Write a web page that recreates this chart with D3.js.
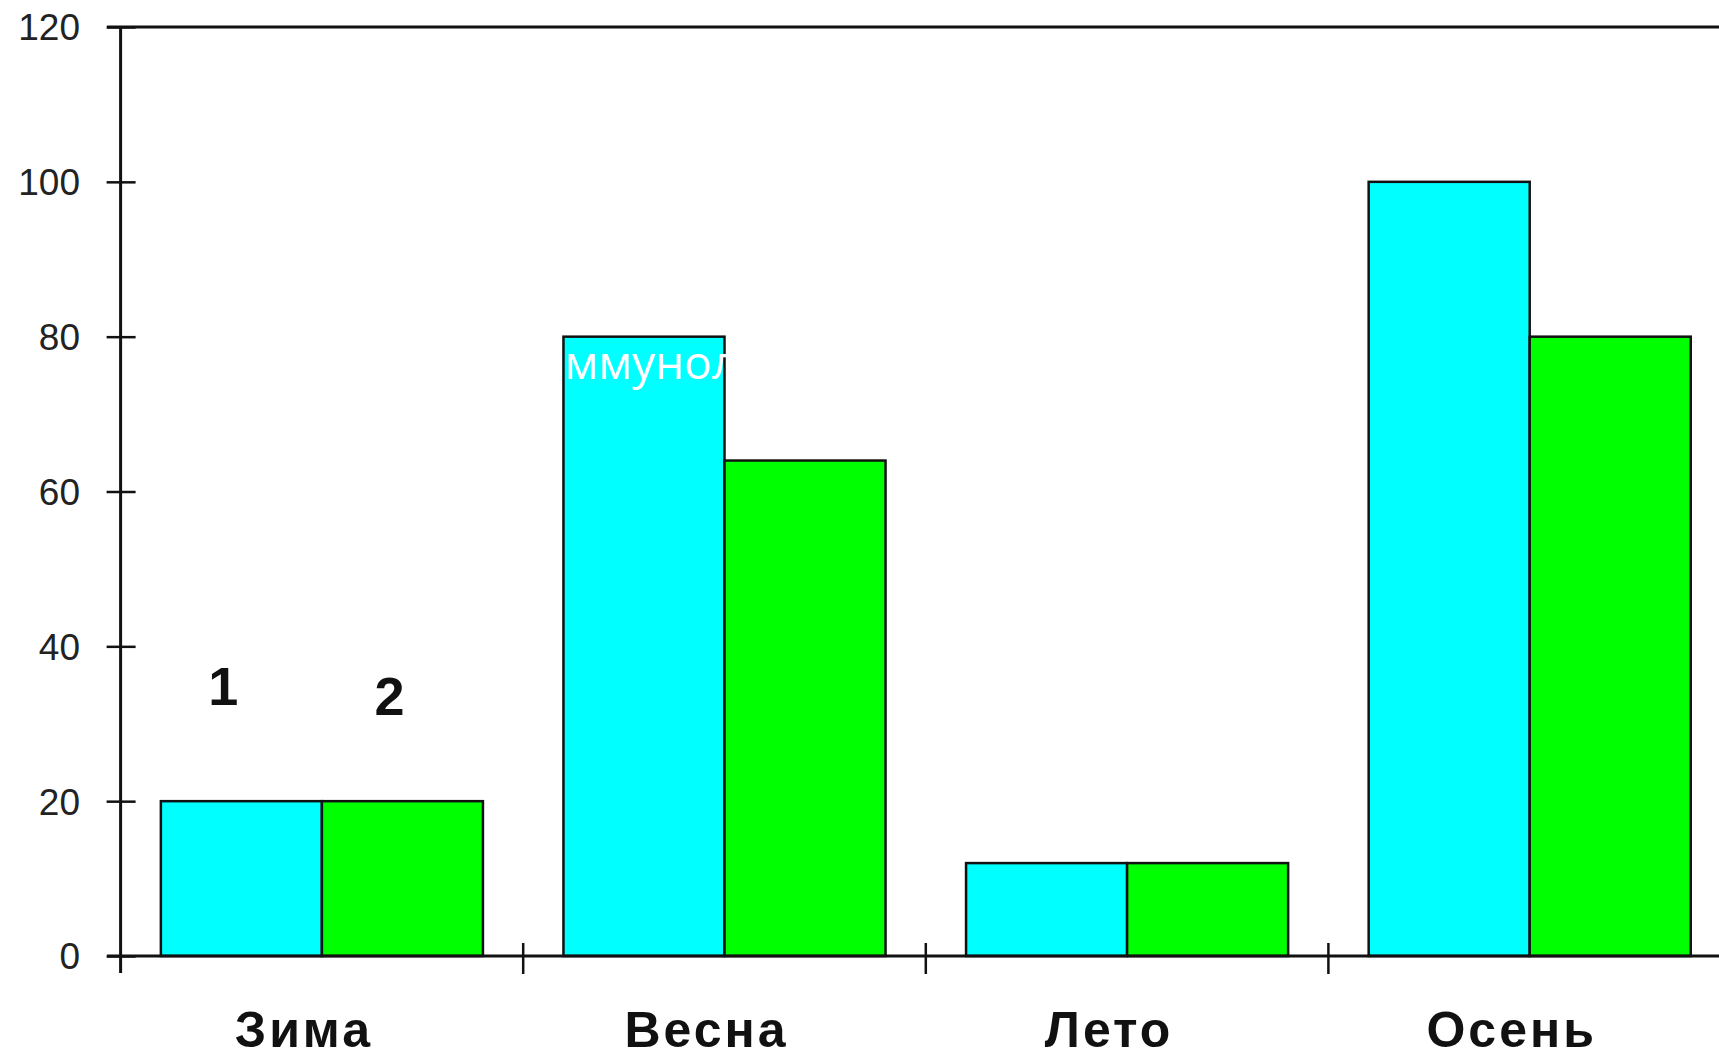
<!DOCTYPE html>
<html>
<head>
<meta charset="utf-8">
<script src="https://cdn.jsdelivr.net/npm/d3@7"></script>
<style>
  html, body { margin: 0; padding: 0; background: #fff; overflow: hidden; }
  svg { display: block; }
</style>
</head>
<body>
<svg id="chart" width="1719" height="1060"></svg>
<script>
// ---- data ----
const categories = ["Зима", "Весна", "Лето", "Осень"];
const seriesNames = ["1", "2"];
const series1 = [20, 80, 12, 100];
const series2 = [20, 64, 12, 80];
const yTicks = [0, 20, 40, 60, 80, 100, 120];
const seriesColors = ["#00ffff", "#00ff00"];
const overlayText = "ммунол";

const svg = d3.select("#chart");

const y = d3.scaleLinear().domain([0, 120]).range([956, 27]);
const x = d3.scaleBand().domain(categories).range([120.6, 1731]).paddingInner(0).paddingOuter(0);
const xs = d3.scaleBand().domain(seriesNames).range([0, x.bandwidth()]).paddingInner(0).paddingOuter(0.25);

const rows = categories.map((c, i) => ({ cat: c, vals: [series1[i], series2[i]] }));

// bars
const g = svg.append("g");
rows.forEach(r => {
  r.vals.forEach((v, j) => {
    g.append("rect")
      .attr("x", x(r.cat) + xs(seriesNames[j]))
      .attr("y", y(v))
      .attr("width", xs.bandwidth())
      .attr("height", y(0) - y(v))
      .attr("fill", seriesColors[j])
      .attr("stroke", "#111")
      .attr("stroke-width", 2.5);
  });
});

// top border line at 120
svg.append("line")
  .attr("x1", 107).attr("x2", 1719)
  .attr("y1", y(120)).attr("y2", y(120))
  .attr("stroke", "#111").attr("stroke-width", 3);

// y axis
const yAxis = svg.append("g")
  .attr("transform", `translate(${x.range()[0]},0)`)
  .call(d3.axisLeft(y).tickValues(yTicks).tickSize(14).tickPadding(26.6).tickFormat(d3.format("d")));
yAxis.select(".domain").remove();
yAxis.selectAll(".tick line").attr("x1", 15).attr("stroke", "#111").attr("stroke-width", 2.5);
yAxis.selectAll(".tick text")
  .attr("font-family", "'Liberation Sans', Arial, sans-serif")
  .attr("font-size", 37)
  .attr("fill", "#222")
  .attr("dy", "0.35em");
svg.append("line")
  .attr("x1", x.range()[0]).attr("x2", x.range()[0])
  .attr("y1", y(120)).attr("y2", 973)
  .attr("stroke", "#111").attr("stroke-width", 3);

// x axis line
svg.append("line")
  .attr("x1", 107).attr("x2", 1719)
  .attr("y1", y(0)).attr("y2", y(0))
  .attr("stroke", "#111").attr("stroke-width", 3);

// category boundary ticks
svg.append("g").selectAll("line")
  .data(categories.slice(1))
  .join("line")
  .attr("x1", d => x(d)).attr("x2", d => x(d))
  .attr("y1", 943).attr("y2", 974)
  .attr("stroke", "#111").attr("stroke-width", 2.5);

// category labels
const xAxis = svg.append("g")
  .attr("transform", `translate(0,${y(0)})`)
  .call(d3.axisBottom(x).tickSize(0).tickPadding(0));
xAxis.select(".domain").remove();
xAxis.selectAll(".tick text")
  .attr("y", 91)
  .attr("dy", 0)
  .attr("dx", -18)
  .attr("font-family", "'Liberation Sans', Arial, sans-serif")
  .attr("font-weight", "bold")
  .attr("font-size", 50)
  .attr("letter-spacing", 3)
  .attr("fill", "#111");

// series labels above first category
const labelBaselines = [705, 715];
const labelDx = [-18, -13];
seriesNames.forEach((s, j) => {
  svg.append("text")
    .attr("x", x(categories[0]) + xs(s) + xs.bandwidth() / 2 + labelDx[j])
    .attr("y", labelBaselines[j])
    .attr("text-anchor", "middle")
    .attr("font-family", "'Liberation Sans', Arial, sans-serif")
    .attr("font-weight", "bold")
    .attr("font-size", 54)
    .attr("fill", "#111")
    .text(s);
});

// white overlay text on spring cyan bar
svg.append("text")
  .attr("x", x(categories[1]) + xs(seriesNames[0]) + 1)
  .attr("y", 379)
  .attr("font-family", "'Open Sans', sans-serif")
  .attr("font-size", 46)
  .attr("fill", "#fff")
  .text(overlayText);
</script>
</body>
</html>
